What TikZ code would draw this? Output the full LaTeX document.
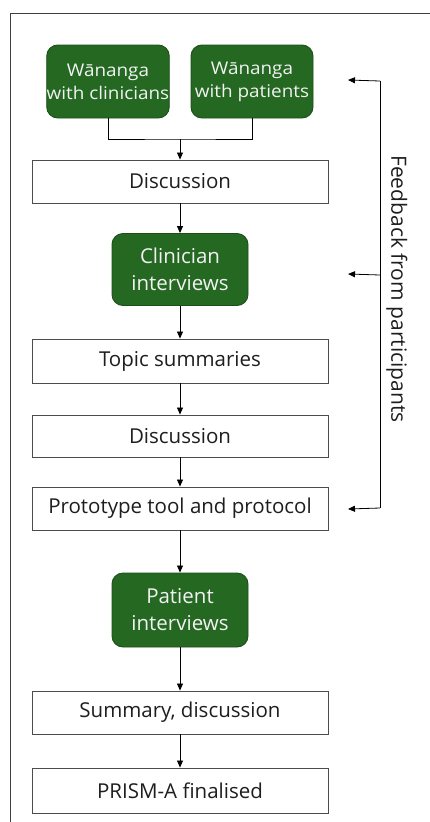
\documentclass[tikz,border=0pt]{standalone}
\usepackage{fontspec}
\setmainfont{Open Sans}
\newfontfamily\widefont[FakeStretch=1.08]{Open Sans}
\usetikzlibrary{arrows.meta}
\definecolor{gfill}{RGB}{36,104,34}
\definecolor{gline}{RGB}{28,80,26}
\definecolor{txt}{RGB}{30,30,30}
\begin{document}
\begin{tikzpicture}[x=1pt,y=-1pt,
  wbox/.style={draw=black!70,line width=0.9pt,fill=white,text=txt,font=\fontsize{20.5}{24}\selectfont,inner sep=0pt},
  gbox/.style={draw=gline,line width=0.9pt,fill=gfill,rounded corners=11pt,text=white!95!black,align=center,inner sep=0pt},
  arr/.style={line width=0.8pt,-{Triangle[length=7pt,width=6pt]}},
  ln/.style={line width=0.8pt}]
\useasboundingbox (0,0) rectangle (430,822);
% frame
\draw[black!75,line width=0.9pt] (10,822) -- (10,13) -- (430,13);
% green boxes
\node[gbox,minimum width=120pt,minimum height=73pt,font=\widefont\fontsize{17.5}{23}\selectfont] (wc) at (108,81.5) {Wānanga\\with clinicians};
\node[gbox,minimum width=122pt,minimum height=73pt,font=\widefont\fontsize{17.5}{23}\selectfont] (wp) at (252,81.5) {Wānanga\\with patients};
\node[wbox,minimum width=296pt,minimum height=43pt] (d1) at (180,181.5) {Discussion};
\node[gbox,minimum width=136pt,minimum height=72pt,font=\fontsize{20.5}{27}\selectfont] (ci) at (180,269.5) {Clinician\\interviews};
\node[wbox,minimum width=296pt,minimum height=44pt] (ts) at (180,361) {Topic summaries};
\node[wbox,minimum width=296pt,minimum height=42pt] (d2) at (180,436) {Discussion};
\node[wbox,minimum width=296pt,minimum height=43pt] (pt) at (180,508.5) {Prototype tool and protocol};
\node[gbox,minimum width=136pt,minimum height=74pt,font=\fontsize{20.5}{27}\selectfont] (pi) at (180,610) {Patient\\interviews};
\node[wbox,minimum width=296pt,minimum height=43pt] (sd) at (180,712.5) {Summary, discussion};
\node[wbox,minimum width=296pt,minimum height=45pt] (pf) at (180,790.5) {PRISM-A finalised};
% merge connectors
\coordinate (m) at (180,139);
\draw[ln] (wc.south) |- (m) -| (wp.south);
\draw[arr] (m) -- (d1.north);
\draw[arr] (d1) -- (ci);
\draw[arr] (ci) -- (ts);
\draw[arr] (ts) -- (d2);
\draw[arr] (d2) -- (pt);
\draw[arr] (pt) -- (pi);
\draw[arr] (pi) -- (sd);
\draw[arr] (sd) -- (pf);
% feedback
\coordinate (ft) at (380,81);
\coordinate (fm) at (380,275);
\coordinate (fb) at (380,508);
\coordinate (at) at (348,80);
\coordinate (am) at (348,274);
\coordinate (ab) at (348,509);
\draw[ln] (ft) -- (fb);
\draw[arr] (ft) -- (at);
\draw[arr] (fm) -- (am);
\draw[arr] (fb) -- (ab);
\node[rotate=-90,text=txt,font=\fontsize{21}{24}\selectfont] (fl) at (397,289) {Feedback from participants};
\end{tikzpicture}
\end{document}
